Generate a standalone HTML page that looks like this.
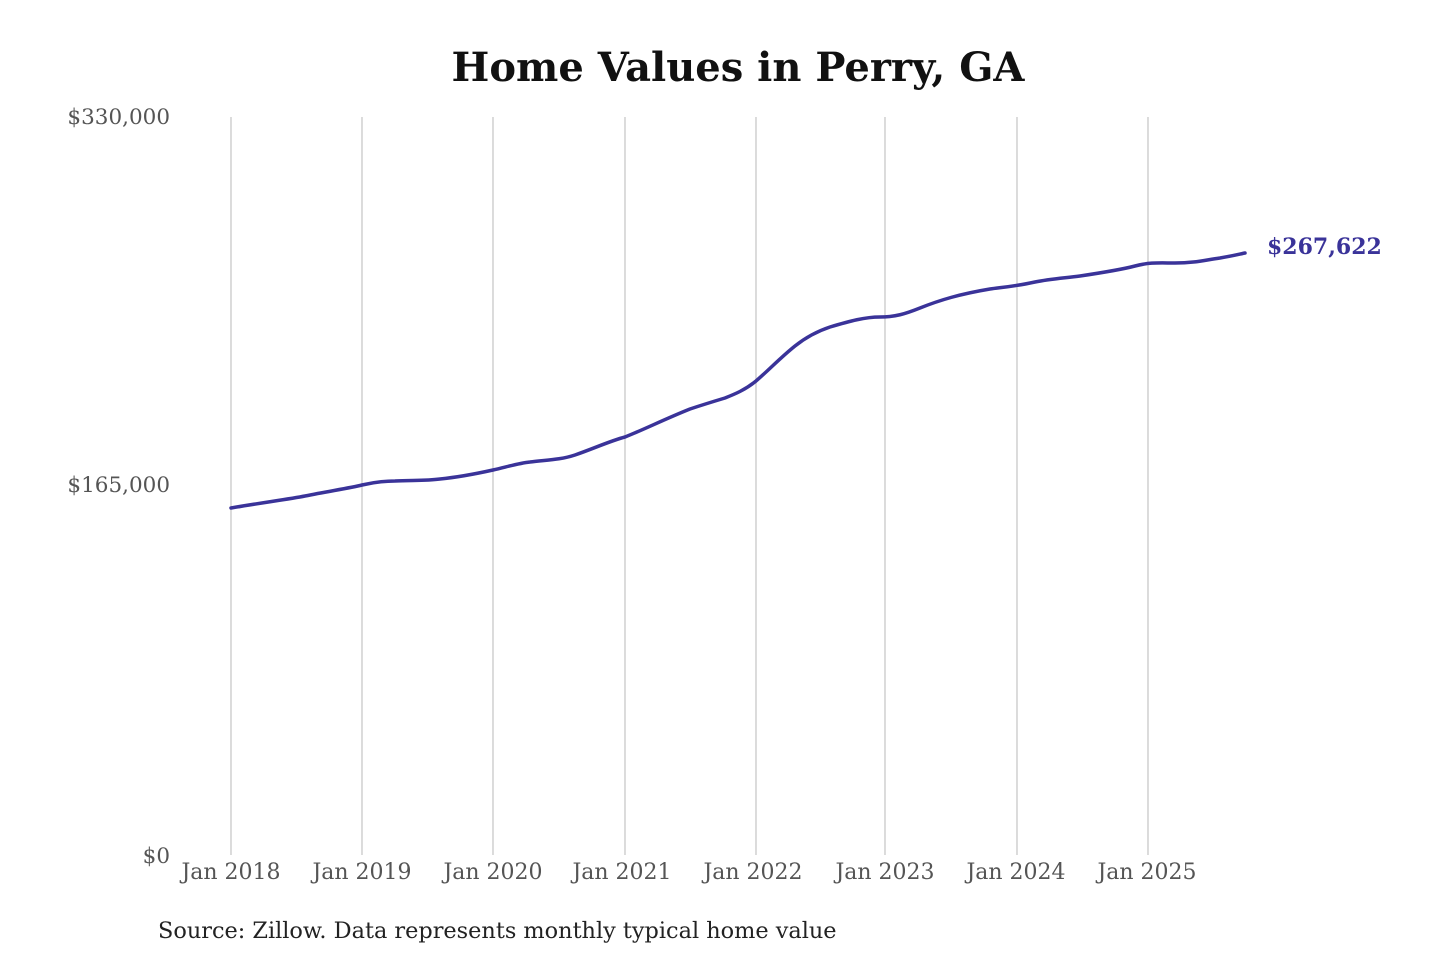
<!DOCTYPE html>
<html><head><meta charset="utf-8"><style>
html,body{margin:0;padding:0;background:#fff;width:1440px;height:960px;overflow:hidden}
</style></head><body>
<svg width="1440" height="960" xmlns="http://www.w3.org/2000/svg" font-family="'DejaVu Serif','Liberation Serif',serif">
<text x="738" y="81" text-anchor="middle" font-size="40" font-weight="bold" fill="#111">Home Values in Perry, GA</text>
<g stroke="#c8c8c8" stroke-width="1.3">
<line x1="231" y1="117" x2="231" y2="855"/><line x1="362" y1="117" x2="362" y2="855"/>
<line x1="493" y1="117" x2="493" y2="855"/><line x1="625" y1="117" x2="625" y2="855"/>
<line x1="756" y1="117" x2="756" y2="855"/><line x1="885" y1="117" x2="885" y2="855"/>
<line x1="1017" y1="117" x2="1017" y2="855"/><line x1="1148" y1="117" x2="1148" y2="855"/>
</g>
<g font-size="21.5" fill="#555" text-anchor="end">
<text x="170" y="124">$330,000</text><text x="170" y="492">$165,000</text><text x="170" y="863">$0</text>
</g>
<g font-size="22" fill="#555" text-anchor="middle">
<text x="231" y="879">Jan 2018</text><text x="362" y="879">Jan 2019</text><text x="493" y="879">Jan 2020</text>
<text x="622" y="879">Jan 2021</text><text x="753" y="879">Jan 2022</text><text x="885" y="879">Jan 2023</text>
<text x="1016" y="879">Jan 2024</text><text x="1147" y="879">Jan 2025</text>
</g>
<path d="M231,508 C260,503 290,499 305,496 C330,491 350,488 362,485 C375,482 385,481 395,481 C410,480 425,481 440,479 C460,477 475,474 493,470 C510,466 520,463 530,462 C545,460 560,460 575,455 C595,448 610,441 625,437 C645,429 665,419 690,409 C705,404 715,401 725,398 C735,394 745,390 756,381 C770,369 780,358 795,346 C805,338 815,332 830,327 C850,321 865,317 880,317 C895,317 905,314 920,308 C940,300 960,294 990,289 C1005,287 1017,286 1035,282 C1050,279 1065,278 1080,276 C1100,273 1120,270 1135,266 C1150,262 1160,263 1175,263 C1195,263 1205,260 1220,258 C1232,256 1240,254 1245,253" fill="none" stroke="#3a3399" stroke-width="3.5" stroke-linecap="round"/>
<text x="1267" y="254" font-size="22" font-weight="bold" fill="#3a3399">$267,622</text>
<text x="158" y="938" font-size="22.4" fill="#222">Source: Zillow. Data represents monthly typical home value</text>
</svg>
</body></html>
